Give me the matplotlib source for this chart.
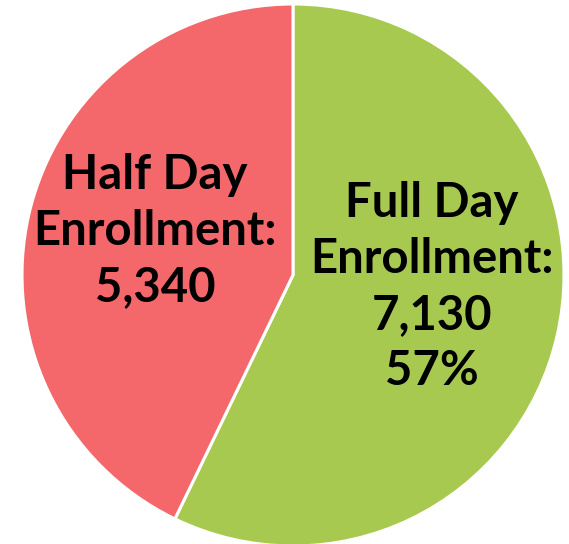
import matplotlib
matplotlib.use("Agg")
import matplotlib.pyplot as plt

labels = ["Full Day\nEnrollment:\n7,130\n57%", "Half Day\nEnrollment:\n5,340"]
values = [7130, 5340]
colors = ["#A8C94F", "#F4686C"]

W, H = 569, 544
fig = plt.figure(figsize=(W / 100, H / 100), dpi=100)
ax = fig.add_axes([0, 0, 1, 1])
ax.set_xlim(0, W)
ax.set_ylim(0, H)
ax.set_aspect("equal")
ax.axis("off")

cx, cy, r = 293, H - 275, 271
ax.pie(values, colors=colors, startangle=90, counterclock=False,
       center=(cx, cy), radius=r, frame=True,
       wedgeprops=dict(edgecolor="white", linewidth=2.2))
ax.set_xlim(0, W)
ax.set_ylim(0, H)
ax.axis("off")

txt_kw = dict(ha="center", va="center", fontsize=34, fontweight="bold",
              family="Lato", color="black", linespacing=1.34)
ax.text(432, H - 287, labels[0], **txt_kw)
ax.text(155, H - 231, labels[1], **txt_kw)

fig.savefig("out.png", dpi=100)
